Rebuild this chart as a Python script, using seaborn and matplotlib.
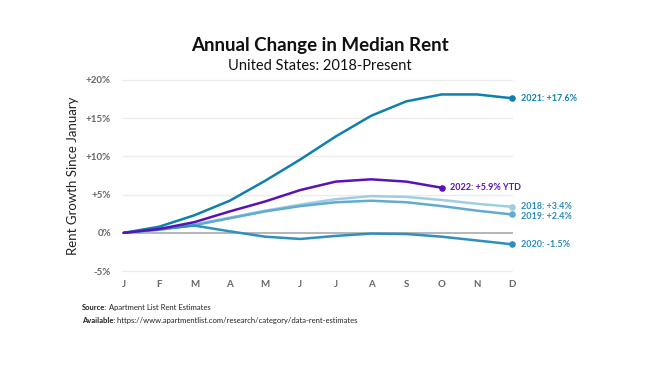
import numpy as np
import pandas as pd
import matplotlib
matplotlib.use("Agg")
import matplotlib.pyplot as plt
import seaborn as sns

# data (% rent growth since January)
months = ["J", "F", "M", "A", "M", "J", "J", "A", "S", "O", "N", "D"]
years = ["2018", "2019", "2020", "2021", "2022"]
growth_2018 = [0, 0.4, 1.1, 2.0, 2.9, 3.7, 4.4, 4.8, 4.7, 4.3, 3.8, 3.4]
growth_2019 = [0, 0.4, 1.0, 1.9, 2.8, 3.5, 4.0, 4.2, 4.0, 3.5, 2.9, 2.4]
growth_2020 = [0, 0.5, 0.95, 0.2, -0.5, -0.8, -0.4, -0.1, -0.15, -0.5, -1.0, -1.5]
growth_2021 = [0, 0.8, 2.3, 4.2, 6.8, 9.6, 12.6, 15.3, 17.2, 18.1, 18.1, 17.6]
growth_2022 = [0, 0.5, 1.4, 2.8, 4.1, 5.6, 6.7, 7.0, 6.7, 5.9]
end_labels = ["2018: +3.4%", "2019: +2.4%", "2020: -1.5%", "2021: +17.6%", "2022: +5.9% YTD"]
y_ticks = [-5, 0, 5, 10, 15, 20]
y_tick_labels = ["-5%", "0%", "+5%", "+10%", "+15%", "+20%"]

line_colors = {
    "2018": "#9fcde2",
    "2019": "#62aad0",
    "2020": "#2f8fbd",
    "2021": "#0f7fae",
    "2022": "#5a12b8",
}
label_colors = {
    "2018": "#2a8cbc",
    "2019": "#2a8cbc",
    "2020": "#2a8cbc",
    "2021": "#1581b0",
    "2022": "#5a12b8",
}
label_offsets = {"2018": 0.0, "2019": -0.3, "2020": 0.0, "2021": 0.0, "2022": 0.0}

series = {
    "2018": growth_2018,
    "2019": growth_2019,
    "2020": growth_2020,
    "2021": growth_2021,
    "2022": growth_2022,
}

rows = []
for cur_year, cur_vals in series.items():
    for cur_i, cur_val in enumerate(cur_vals):
        rows.append({"year": cur_year, "month_idx": cur_i, "growth": cur_val})
df = pd.DataFrame(rows)

sns.set_theme(style="white")
plt.rcParams["font.family"] = ["Lato", "DejaVu Sans"]

fig = plt.figure(figsize=(6.5, 3.73), dpi=100)
ax = fig.add_axes([0.1877, 0.263, 0.6015, 0.533])

# gridlines
for cur_y in y_ticks:
    if cur_y == 0:
        ax.axhline(cur_y, color="#a9a9a9", lw=1.2, zorder=1)
    else:
        ax.axhline(cur_y, color="#ececec", lw=1.0, zorder=0)

sns.lineplot(
    data=df,
    x="month_idx",
    y="growth",
    hue="year",
    hue_order=years,
    palette=line_colors,
    lw=1.8,
    legend=False,
    ax=ax,
    zorder=3,
)

# end markers and labels
for cur_year, cur_label in zip(years, end_labels):
    cur_vals = series[cur_year]
    last_x = len(cur_vals) - 1
    last_y = cur_vals[-1]
    ax.scatter([last_x], [last_y], s=14, color=line_colors[cur_year], zorder=4, clip_on=False)
    ax.annotate(
        cur_label,
        xy=(last_x, last_y + label_offsets[cur_year]),
        xytext=(6, 0),
        textcoords="offset points",
        va="center",
        ha="left",
        fontsize=6.5,
        fontweight="bold",
        color=label_colors[cur_year],
        annotation_clip=False,
    )

ax.set_xlim(-0.05, 11.02)
ax.set_ylim(-5.5, 20.5)
ax.set_xticks(np.arange(len(months)))
ax.set_xticklabels(months, fontsize=7, fontweight="bold", color="#666666")
ax.set_yticks(y_ticks)
ax.set_yticklabels(y_tick_labels, fontsize=7, fontweight="bold", color="#666666")
ax.tick_params(axis="both", length=0)
ax.tick_params(axis="y", pad=8)
ax.tick_params(axis="x", pad=4)
ax.set_xlabel("")
ax.set_ylabel("Rent Growth Since January", fontsize=9.5, color="#222222", labelpad=5)
sns.despine(ax=ax, left=True, bottom=True)

fig.text(0.492, 0.878, "Annual Change in Median Rent", ha="center", va="center",
         fontsize=13.5, fontweight="bold", color="#111111")
fig.text(0.492, 0.823, "United States: 2018-Present", ha="center", va="center",
         fontsize=10.5, color="#111111")

src = fig.text(0.126, 0.169, "Source:", fontsize=5.5, fontweight="bold", color="#222222")
avl = fig.text(0.126, 0.134, "Available:", fontsize=5.5, fontweight="bold", color="#222222")

# regular-weight parts placed right after the bold prefixes
ax.annotate(" Apartment List Rent Estimates", xy=(1, 0), xycoords=src,
            fontsize=5.5, color="#222222", va="bottom", ha="left", annotation_clip=False)
ax.annotate(" https://www.apartmentlist.com/research/category/data-rent-estimates", xy=(1, 0),
            xycoords=avl, fontsize=5.5, color="#222222", va="bottom", ha="left",
            annotation_clip=False)

fig.savefig("out.png", dpi=100)
